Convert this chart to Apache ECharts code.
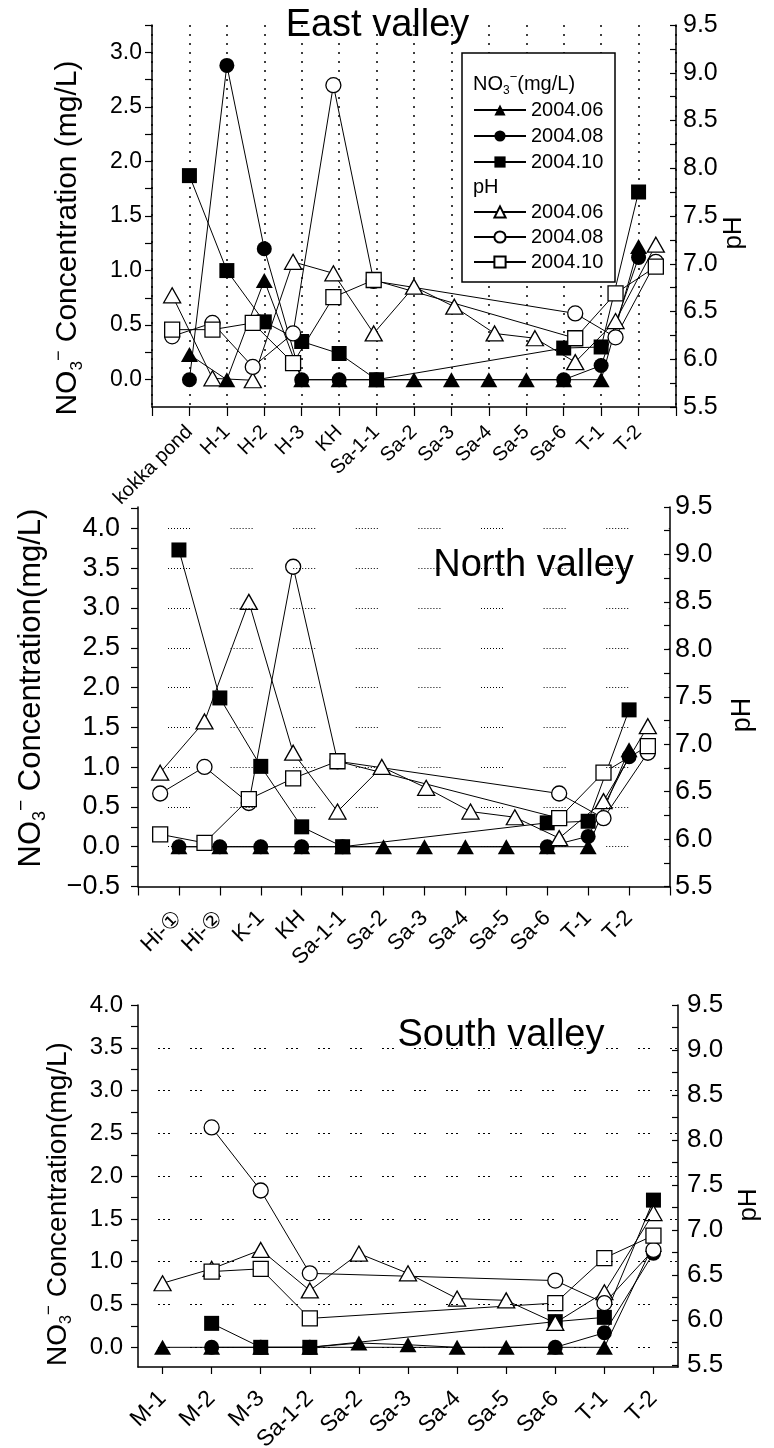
<!DOCTYPE html>
<html>
<head>
<meta charset="utf-8">
<script src="https://cdn.jsdelivr.net/npm/echarts@6/dist/echarts.min.js"></script>
<style>html,body{margin:0;padding:0;background:#fff}#c{width:774px;height:1448px}</style>
</head>
<body>
<div id="c"></div>
<script>
// ---------------- DATA ----------------
const eastSites = ['kokka pond','H-1','H-2','H-3','KH','Sa-1-1','Sa-2','Sa-3','Sa-4','Sa-5','Sa-6','T-1','T-2'];
const eastNO3_200406 = [0.23, 0, 0.91, 0, 0, 0, 0, 0, 0, 0, 0, 0, 1.22];
const eastNO3_200408 = [0, 2.88, 1.2, 0, 0, 0, null, null, null, null, 0, 0.13, 1.12];
const eastNO3_200410 = [1.87, 1.0, 0.53, 0.35, 0.24, 0, null, null, null, null, 0.29, 0.30, 1.72];
const eastPH_200406 = [6.67, 5.80, 5.78, 7.02, 6.90, 6.27, 6.76, 6.55, 6.27, 6.22, 5.97, 6.40, 7.20];
const eastPH_200408 = [6.24, 6.38, 5.92, 6.27, 8.87, 6.82, null, null, null, null, 6.48, 6.23, 7.02];
const eastPH_200410 = [6.31, 6.31, 6.38, 5.96, 6.65, 6.83, null, null, null, null, 6.22, 6.69, 6.97];

const northSites = ['Hi-①','Hi-②','K-1','KH','Sa-1-1','Sa-2','Sa-3','Sa-4','Sa-5','Sa-6','T-1','T-2'];
const northNO3_200406 = [0, 0, 0, 0, 0, 0, 0, 0, 0, 0, 0, 1.22];
const northNO3_200408 = [0, 0, 0, 0, 0, null, null, null, null, 0, 0.13, 1.13];
const northNO3_200410 = [3.73, 1.87, 1.01, 0.25, 0, null, null, null, null, 0.30, 0.32, 1.72];
const northPH_200406 = [6.70, 7.24, 8.50, 6.91, 6.29, 6.76, 6.54, 6.29, 6.23, 6.01, 6.40, 7.19];
const northPH_200408 = [6.48, 6.76, 6.38, 8.87, 6.82, null, null, null, null, 6.48, 6.22, 6.91];
const northPH_200410 = [6.05, 5.96, 6.42, 6.64, 6.82, null, null, null, null, 6.22, 6.70, 6.98];

const southSites = ['M-1','M-2','M-3','Sa-1-2','Sa-2','Sa-3','Sa-4','Sa-5','Sa-6','T-1','T-2'];
const southNO3_200406 = [0, 0, 0, 0, 0.05, 0.03, 0, 0, 0, 0, 1.2];
const southNO3_200408 = [null, 0, 0, 0, null, null, null, null, 0, 0.17, 1.10];
const southNO3_200410 = [null, 0.28, 0, 0, null, null, null, null, 0.30, 0.35, 1.72];
const southPH_200406 = [6.41, 6.57, 6.78, 6.33, 6.74, 6.52, 6.24, 6.22, 5.97, 6.31, 7.19];
const southPH_200408 = [null, 8.14, 7.44, 6.52, null, null, null, null, 6.44, 6.19, 6.78];
const southPH_200410 = [null, 6.54, 6.57, 6.02, null, null, null, null, 6.19, 6.69, 6.94];

const dates = ['2004.06', '2004.08', '2004.10'];
const eastNO3Labels  = [0, 0.5, 1.0, 1.5, 2.0, 2.5, 3.0];
const northNO3Labels = [-0.5, 0, 0.5, 1.0, 1.5, 2.0, 2.5, 3.0, 3.5, 4.0];
const southNO3Labels = [0, 0.5, 1.0, 1.5, 2.0, 2.5, 3.0, 3.5, 4.0];
const pHLabels = [5.5, 6.0, 6.5, 7.0, 7.5, 8.0, 8.5, 9.0, 9.5];
const northGridLevels = [0, 0.5, 1.0, 1.5, 2.0, 2.5, 3.0, 3.5, 4.0];
const southGridLevels = [0, 0.5, 1.0, 1.5, 2.0, 2.5, 3.0, 3.5];

// ---------------- LAYOUT / STYLE ----------------
const FONT = "'Liberation Sans', Arial, Helvetica, sans-serif";
function quarterTicks(from, to) { const a = []; for (let v = from; v <= to + 1e-9; v += 0.25) a.push(+v.toFixed(2)); return a; }
function fmt(v) { const s = Math.abs(v).toFixed(1); return v < 0 ? '\u2212' + s : s; }

const panels = [
  { cats: eastSites, no3: [eastNO3_200406, eastNO3_200408, eastNO3_200410], ph: [eastPH_200406, eastPH_200408, eastPH_200410],
    box: {left: 152, top: 25, width: 524, height: 382}, xMode: 'value', vGrid: true,
    lMin: -0.25, lMax: 3.25, lLabels: eastNO3Labels, lTicks: quarterTicks(0, 3.25), lFont: 23, lMargin: 10,
    rMin: 5.5, rMax: 9.5, rFont: 25, rMargin: 7, xFont: 20, xMargin: 22, xTick: 9 },
  { cats: northSites, no3: [northNO3_200406, northNO3_200408, northNO3_200410], ph: [northPH_200406, northPH_200408, northPH_200410],
    box: {left: 138, top: 507, width: 532, height: 379.5}, xMode: 'value', vGrid: false,
    lMin: -0.5, lMax: 4.27, lLabels: northNO3Labels, lTicks: quarterTicks(-0.5, 4.25), lFont: 27, lMargin: 18,
    rMin: 5.5, rMax: 9.5, rFont: 27, rMargin: 5, xFont: 22, xMargin: 28, xTick: 9,
    hLevels: northGridLevels, hDash: [1,2,1,2,1,2,1,2,1,2,1,2,1,2,1,40.6], hOffset: 32.6 },
  { cats: southSites, no3: [southNO3_200406, southNO3_200408, southNO3_200410], ph: [southPH_200406, southPH_200408, southPH_200410],
    box: {left: 138, top: 1005, width: 540, height: 362}, xMode: 'category', vGrid: false,
    lMin: -0.23, lMax: 4.0, lLabels: southNO3Labels, lTicks: quarterTicks(0, 4.0), lFont: 24, lMargin: 15,
    rMin: 5.48, rMax: 9.5, rFont: 26, rMargin: 9, xFont: 23, xMargin: 28, xTick: 7,
    hLevels: southGridLevels, hDash: [2,3,2,3,2,20], hOffset: 12 }
];
const symbols = ['triangle', 'circle', 'rect'];
const symSizes = [[17, 15], 15, 15];

const grids = [], xAxes = [], yAxes = [], series = [];
const axisLineStyle = {color: '#000', width: 1.5};
panels.forEach((P, p) => {
  const n = P.cats.length;
  grids.push({left: P.box.left, top: P.box.top, width: P.box.width, height: P.box.height, containLabel: false, outerBoundsMode: 'none'});
  const xLabel = {rotate: 45, margin: P.xMargin, fontSize: P.xFont, fontFamily: FONT, color: '#000', interval: 0};
  if (P.xMode === 'value') {
    xAxes.push({type: 'value', gridIndex: p, min: 0, max: n + 1, interval: 1,
      axisLine: {show: true, onZero: false, lineStyle: axisLineStyle},
      axisTick: {show: true, length: P.xTick, lineStyle: {color: '#000', width: 1.2}},
      axisLabel: Object.assign({}, xLabel, {formatter: v => { const i = Math.round(v); return (i >= 1 && i <= n) ? P.cats[i - 1] : ''; }}),
      splitLine: P.vGrid ? {show: true, lineStyle: {color: '#000', width: 1.5, type: [2, 7]}} : {show: false}
    });
  } else {
    xAxes.push({type: 'category', gridIndex: p, data: P.cats, boundaryGap: true,
      axisLine: {show: true, onZero: false, lineStyle: axisLineStyle},
      axisTick: {show: true, alignWithLabel: true, length: P.xTick, lineStyle: {color: '#000', width: 1.2}},
      axisLabel: xLabel, splitLine: {show: false}
    });
  }
  xAxes.push({type: 'category', gridIndex: p, data: P.cats, boundaryGap: true, show: false});
  yAxes.push({type: 'value', gridIndex: p, position: 'left', min: P.lMin, max: P.lMax,
    axisLine: {show: true, onZero: false, lineStyle: axisLineStyle},
    axisTick: {show: true, length: 7, customValues: P.lTicks, lineStyle: {color: '#000', width: 1.2}},
    axisLabel: {customValues: P.lLabels, formatter: fmt, fontSize: P.lFont, fontFamily: FONT, color: '#000', margin: P.lMargin},
    splitLine: {show: false}
  });
  yAxes.push({type: 'value', gridIndex: p, position: 'right', min: P.rMin, max: P.rMax,
    axisLine: {show: true, onZero: false, lineStyle: axisLineStyle},
    axisTick: {show: true, inside: true, length: 6, customValues: quarterTicks(5.5, 9.5), lineStyle: {color: '#000', width: 1.2}},
    axisLabel: {customValues: pHLabels, formatter: fmt, fontSize: P.rFont, fontFamily: FONT, color: '#000', margin: P.rMargin},
    splitLine: {show: false}
  });
  if (P.hLevels) {
    series.push({type: 'line', name: 'grid' + p, xAxisIndex: 2 * p, yAxisIndex: 2 * p, data: [], silent: true, z: 1,
      markLine: {silent: true, symbol: 'none', animation: false, label: {show: false},
        lineStyle: {color: '#000', width: 1.2, type: P.hDash, dashOffset: P.hOffset},
        emphasis: {disabled: true},
        data: P.hLevels.map(v => ({yAxis: v}))}
    });
  }
  dates.forEach((d, k) => {
    series.push({type: 'line', name: 'NO3 ' + d, xAxisIndex: 2 * p, yAxisIndex: 2 * p,
      data: P.no3[k].map((v, i) => P.xMode === 'value' ? [i + 1, v] : v),
      connectNulls: true, showAllSymbol: true, symbol: symbols[k], symbolSize: symSizes[k],
      itemStyle: {color: '#000'}, lineStyle: {color: '#000', width: 1}, z: 3, emphasis: {disabled: true}
    });
  });
  dates.forEach((d, k) => {
    series.push({type: 'line', name: 'pH ' + d, xAxisIndex: 2 * p + 1, yAxisIndex: 2 * p + 1,
      data: P.ph[k], connectNulls: true, showAllSymbol: true, symbol: symbols[k], symbolSize: symSizes[k],
      itemStyle: {color: '#fff', borderColor: '#000', borderWidth: 1.3}, lineStyle: {color: '#000', width: 1}, z: 4,
      emphasis: {disabled: true}
    });
  });
});

function nameRich(size, sub, sup) {
  return {
    a: {fontSize: size, lineHeight: size + 6, fontFamily: FONT, fill: '#000', color: '#000'},
    b: {fontSize: sub, lineHeight: sub, verticalAlign: 'bottom', fontFamily: FONT, fill: '#000', color: '#000'},
    c: {fontSize: sup, lineHeight: sup, verticalAlign: 'top', fontFamily: FONT, fill: '#000', color: '#000'}
  };
}
function txt(x, y, text, size, rot, align) {
  return {type: 'text', x: x, y: y, rotation: rot || 0, z: 10, silent: true,
    style: {text: text, fontSize: size, fontFamily: FONT, fill: '#000', align: align || 'center', verticalAlign: 'middle',
      textAlign: align || 'center', textVerticalAlign: 'middle'}};
}
function richTxt(x, y, text, rich, rot, align) {
  return {type: 'text', x: x, y: y, rotation: rot || 0, z: 10, silent: true,
    style: {text: text, rich: rich, fill: '#000', fontFamily: FONT, align: align || 'center', verticalAlign: 'middle',
      textAlign: align || 'center', textVerticalAlign: 'middle'}};
}
const R = Math.PI / 2;
const graphics = [
  txt(377.5, 26, 'East valley', 38),
  txt(533.5, 566, 'North valley', 38),
  txt(501, 1036, 'South valley', 38),
  richTxt(68, 238, '{a|NO}{b|3}{c|\u2212}{a| Concentration (mg/L)}', nameRich(30, 17, 18), R),
  richTxt(31, 688, '{a|NO}{b|3}{c|\u2212}{a| Concentration(mg/L)}', nameRich(31, 18, 19), R),
  richTxt(58, 1204, '{a|NO}{b|3}{c|\u2212}{a| Concentration(mg/L)}', nameRich(28, 16, 17), R),
  txt(734, 233, 'pH', 26, R),
  txt(743, 715, 'pH', 27, R),
  txt(749, 1205, 'pH', 26, R),
  {type: 'rect', z: 3, silent: true, shape: {x: 462, y: 53, width: 153, height: 229},
    style: {fill: '#fff', stroke: '#000', lineWidth: 1.5}},
  richTxt(473, 84, '{a|NO}{b|3}{c|\u2212}{a|(mg/L)}', nameRich(20, 12, 13), 0, 'left'),
  txt(473, 187, 'pH', 20, 0, 'left')
];

const legendBase = {orient: 'vertical', left: 473, padding: 0, itemWidth: 52, itemHeight: 14,
  selectedMode: false, z: 6, formatter: nm => nm.replace(/^(NO3|pH) /, ''),
  textStyle: {fontSize: 20, fontFamily: FONT, color: '#000'}};

const option = {
  animation: false,
  backgroundColor: '#fff',
  grid: grids, xAxis: xAxes, yAxis: yAxes, series: series,
  legend: [
    Object.assign({}, legendBase, {top: 100, itemGap: 6, data: dates.map(d => 'NO3 ' + d)}),
    Object.assign({}, legendBase, {top: 202, itemGap: 5, data: dates.map(d => 'pH ' + d)})
  ],
  graphic: graphics
};
const chart = echarts.init(document.getElementById('c'), null, {renderer: 'canvas', width: 774, height: 1448});
chart.setOption(option);
</script>
</body>
</html>
